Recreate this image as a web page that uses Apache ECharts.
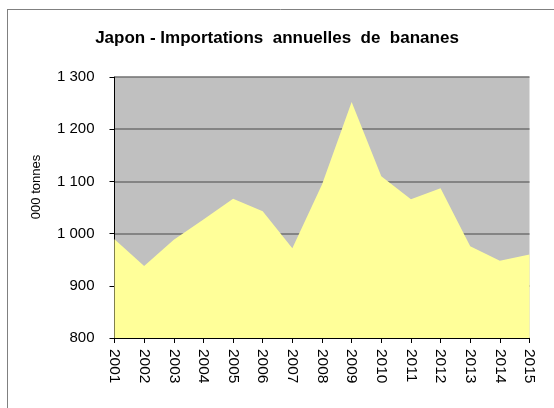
<!DOCTYPE html>
<html>
<head>
<meta charset="utf-8">
<script src="https://cdn.jsdelivr.net/npm/echarts@6/dist/echarts.min.js"></script>
<style>
html,body{margin:0;padding:0;background:#fff;}
#main{width:554px;height:408px;}
</style>
</head>
<body>
<div id="main"></div>
<script>
var years = ['2001','2002','2003','2004','2005','2006','2007','2008','2009','2010','2011','2012','2013','2014','2015'];
var imports = [989, 938, 988, 1027, 1067, 1043, 972, 1094, 1252, 1110, 1066, 1087, 976, 948, 960];
var yTicks = [800, 1300, 100]; // min, max, step

var chart = echarts.init(document.getElementById('main'));

var option = {
	animation:false,
	backgroundColor:'#fff',
	title:{
		text:'Japon - Importations  annuelles  de  bananes',
		left:'center',
		top:25,
		textStyle:{
			fontFamily:'Liberation Sans, Arial',
			fontSize:17,
			fontWeight:'bold',
			color:'#000'
		}
	},
	graphic:[
		{
			type:'line',
			shape:{x1:7,y1:9.5,x2:554,y2:9.5},
			style:{stroke:'#808080',lineWidth:1}
		},
		{
			type:'line',
			shape:{x1:7.5,y1:9,x2:7.5,y2:408},
			style:{stroke:'#808080',lineWidth:1}
		},
		{
			type:'text',
			x:36,
			y:187,
			rotation:Math.PI/2,
			style:{
				text:'000 tonnes',
				fill:'#000',
				font:'13px "Liberation Sans", Arial',
				align:'center',
				verticalAlign:'middle'
			}
		}
	],
	grid:{
		left:114.5,
		right:24.5,
		top:77,
		bottom:70,
		show:true,
		backgroundColor:'#c0c0c0',
		borderWidth:0
	},
	xAxis:{
		type:'category',
		data:years,
		boundaryGap:false,
		axisLine:{lineStyle:{color:'#000',width:1}},
		axisTick:{show:true,length:5,lineStyle:{color:'#000'}},
		axisLabel:{
			rotate:-90,
			margin:11,
			interval:0,
			color:'#000',
			fontSize:15.5,
			fontFamily:'Liberation Sans, Arial'
		},
		splitLine:{show:false}
	},
	yAxis:{
		type:'value',
		min:yTicks[0],
		max:yTicks[1],
		interval:yTicks[2],
		axisLine:{show:true,lineStyle:{color:'#000',width:1}},
		axisTick:{show:true,length:5,lineStyle:{color:'#000'}},
		axisLabel:{
			margin:20,
			color:'#000',
			fontSize:15,
			fontFamily:'Liberation Sans, Arial',
			formatter:function(v){
				return String(v).replace(/\B(?=(\d{3})+(?!\d))/g,' ');
			}
		},
		splitLine:{show:true,lineStyle:{color:'#707070',width:1.5}}
	},
	series:[
		{
			name:'Importations',
			type:'line',
			data:imports,
			symbol:'none',
			lineStyle:{width:0},
			areaStyle:{color:'#ffff99',opacity:1},
			z:1
		}
	]
};
chart.setOption(option);
</script>
</body>
</html>
